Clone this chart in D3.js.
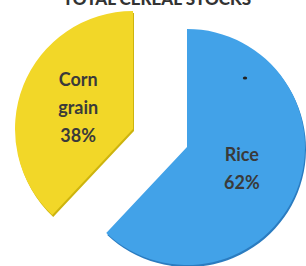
<!DOCTYPE html>
<html><head><meta charset="utf-8">
<script src="https://cdn.jsdelivr.net/npm/d3@7"></script>
<style>html,body{margin:0;padding:0;background:#fff;}svg{display:block;}</style>
</head><body>
<script>
const title = "TOTAL CEREAL STOCKS";
const categories = ["Rice", "Corn grain"];
const values = [62, 38];
const labelLines = [["Rice", "62%"], ["Corn", "grain", "38%"]];
const colors = ["#42A2E8", "#F2D728"];
const edgeColors = ["#2B7CC0", "#CDB40E"];

const W = 306, H = 266, R = 118;
const centers = [[187, 147], [133, 129]];

const svg = d3.select("body").append("svg").attr("width", W).attr("height", H);

svg.append("text").attr("x", 157).attr("y", 5).attr("text-anchor", "middle")
  .attr("font-family", "Lato, sans-serif").attr("font-weight", 900).attr("font-size", 17)
  .attr("fill", "#333").text(title);

const pie = d3.pie().sort(null).value(d => d)(values);
const arc = d3.arc().innerRadius(0).outerRadius(R);

const g = svg.selectAll("g.slice").data(pie).join("g").attr("class", "slice")
  .attr("transform", (d, i) => `translate(${centers[i][0]},${centers[i][1]})`);

g.append("path").attr("d", arc).attr("fill", (d, i) => edgeColors[i]).attr("transform", "translate(1,2)");
g.append("path").attr("d", arc).attr("fill", (d, i) => colors[i]);

g.each(function (d, i) {
  const c = arc.centroid(d);
  const lines = labelLines[i];
  const lh = 28;
  const y0 = c[1] - (lines.length - 1) * lh / 2;
  d3.select(this).selectAll("text").data(lines).join("text")
    .attr("x", c[0]).attr("y", (t, j) => y0 + j * lh)
    .attr("dy", "0.35em").attr("text-anchor", "middle")
    .attr("font-family", "Lato, sans-serif").attr("font-weight", 700).attr("font-size", 18)
    .attr("fill", "#3a3a3a").text(t => t);
});

// small dark speck on the rice slice
svg.append("ellipse").attr("cx", 245).attr("cy", 78).attr("rx", 2.2).attr("ry", 1.6).attr("fill", "#222");
</script>
</body></html>
